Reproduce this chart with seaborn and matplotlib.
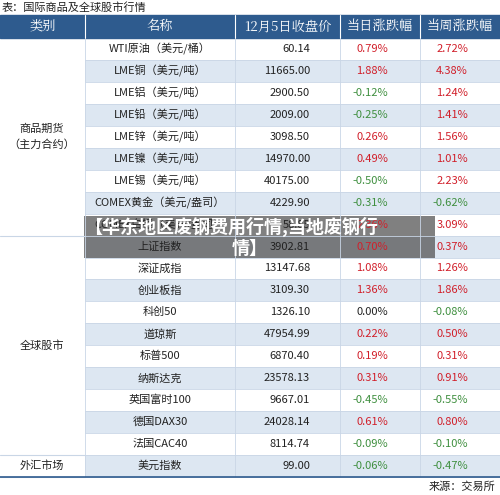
import matplotlib
matplotlib.use("Agg")
import matplotlib.pyplot as plt
import seaborn as sns

sns.set_theme(style="white")
plt.rcParams['font.family'] = ['Noto Sans CJK SC', 'DejaVu Sans']

title = "表：国际商品及全球股市行情"
headers = ["类别", "名称", "12月5日收盘价", "当日涨跌幅", "当周涨跌幅"]
names = ["WTI原油（美元/桶）", "LME铜（美元/吨）", "LME铝（美元/吨）", "LME铅（美元/吨）",
         "LME锌（美元/吨）", "LME镍（美元/吨）", "LME锡（美元/吨）", "COMEX黄金（美元/盎司）",
         "COMEX白银（美元/盎司）", "上证指数", "深证成指", "创业板指", "科创50", "道琼斯",
         "标普500", "纳斯达克", "英国富时100", "德国DAX30", "法国CAC40", "美元指数"]
prices = ["60.14", "11665.00", "2900.50", "2009.00", "3098.50", "14970.00", "40175.00",
          "4229.90", "58.85", "3902.81", "13147.68", "3109.30", "1326.10", "47954.99",
          "6870.40", "23578.13", "9667.01", "24028.14", "8114.74", "99.00"]
day_chg = [0.79, 1.88, -0.12, -0.25, 0.26, 0.49, -0.50, -0.31, 2.36, 0.70, 1.08, 1.36,
           0.00, 0.22, 0.19, 0.31, -0.45, 0.61, -0.09, -0.06]
week_chg = [2.72, 4.38, 1.24, 1.41, 1.56, 1.01, 2.23, -0.62, 3.09, 0.37, 1.26, 1.86,
            -0.08, 0.50, 0.31, 0.91, -0.55, 0.80, -0.10, -0.47]
groups = [("商品期货\n（主力合约）", 0, 9), ("全球股市", 9, 19), ("外汇市场", 19, 20)]

fig = plt.figure(figsize=(5.0, 4.95), dpi=100)
ax = fig.add_axes([0, 0, 1, 1])
ax.set_xlim(0, 500)
ax.set_ylim(495, 0)
ax.axis("off")

cols = [0, 85, 235, 340, 420, 500]
head_top, head_h = 15, 23
row_h = 21.95
top = head_top + head_h
blue = "#2e5b8e"
stripe = "#dde7f2"
red = "#d11f2a"
green = "#3f8f3f"

ax.text(2, 7, title, fontsize=8, va="center", ha="left", color="#222222")
ax.add_patch(plt.Rectangle((0, head_top), 500, head_h, color=blue))
for i, h in enumerate(headers):
    ax.text((cols[i] + cols[i + 1]) / 2, head_top + head_h / 2, h, color="white",
            fontsize=9.5, ha="center", va="center", family=['Noto Serif CJK SC', 'Noto Sans CJK SC', 'DejaVu Serif'])
    if i > 0:
        ax.plot([cols[i], cols[i]], [head_top, head_top + head_h], color="white", lw=0.8)


def fmt(v):
    return f"{v:.2f}%"


def col(v):
    return red if v > 0 else (green if v < 0 else "#222222")


for r in range(len(names)):
    y = top + r * row_h
    if r % 2 == 1:
        ax.add_patch(plt.Rectangle((85, y), 415, row_h, color=stripe, lw=0))
    ax.plot([85, 500], [y + row_h, y + row_h], color="#c9d6e6", lw=0.6)
    yc = y + row_h / 2
    ax.text(160, yc, names[r], fontsize=8, ha="center", va="center", color="#222222")
    ax.text(310, yc, prices[r], fontsize=8, ha="right", va="center", color="#222222")
    ax.text(388, yc, fmt(day_chg[r]), fontsize=8, ha="right", va="center", color=col(day_chg[r]))
    ax.text(468, yc, fmt(week_chg[r]), fontsize=8, ha="right", va="center", color=col(week_chg[r]))

for label, a, b in groups:
    y0, y1 = top + a * row_h, top + b * row_h
    ax.plot([0, 85], [y1, y1], color="#c9d6e6", lw=0.8)
    ax.text(42, (y0 + y1) / 2, label, fontsize=8, ha="center", va="center",
            color="#222222", linespacing=1.6)
for x in cols[1:-1]:
    ax.plot([x, x], [top, top + 20 * row_h], color="#c9d6e6", lw=0.6)
ax.plot([0, 500], [top + 20 * row_h, top + 20 * row_h], color=blue, lw=1.2)
ax.text(495, 487, "来源：交易所", fontsize=8, ha="right", va="center", color="#222222")

# overlay banner
ax.add_patch(plt.Rectangle((84, 216), 351, 42, color="#555555", alpha=0.75, lw=0))
ax.text(84, 227, "【华东地区废钢费用行情,当地废钢行", fontsize=13, fontweight="bold",
        color="white", ha="left", va="center")
ax.text(250, 248, "情】", fontsize=13, fontweight="bold", color="white", ha="center", va="center")

fig.savefig("out.png", dpi=100)
